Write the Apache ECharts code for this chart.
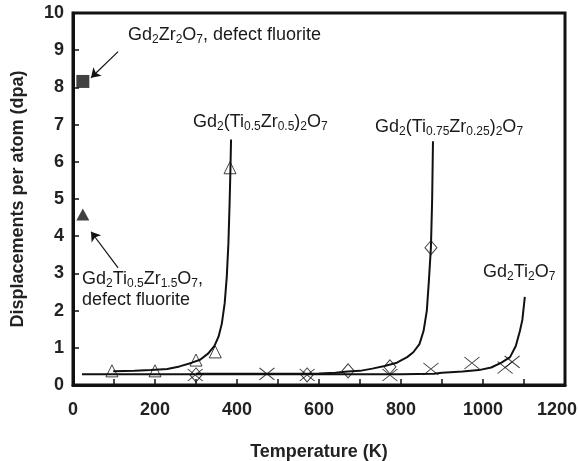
<!DOCTYPE html>
<html>
<head>
<meta charset="utf-8">
<script src="https://cdn.jsdelivr.net/npm/echarts@6/dist/echarts.min.js"></script>
<style>
  html, body { margin: 0; padding: 0; background: #fff; }
  #chartContainer { width: 578px; height: 461px; }
</style>
</head>
<body>
<div id="chartContainer"></div>
<script>
// measured points (temperature K, dpa)
var tempTi05 = [95, 200, 300, 347, 383];
var dpaTi05 = [0.38, 0.38, 0.67, 0.89, 5.84];

var tempTi075 = [300, 571, 671, 773, 873];
var dpaTi075 = [0.27, 0.27, 0.38, 0.49, 3.69];

var tempTi2 = [298, 473, 571, 773, 873, 973, 1054, 1071];
var dpaTi2 = [0.27, 0.30, 0.27, 0.27, 0.43, 0.59, 0.47, 0.62];

var tempZr2 = [24];
var dpaZr2 = [8.16];
var tempZr15 = [24];
var dpaZr15 = [4.58];

// hand drawn trend curves
var curveTi05T = [98, 150, 190, 230, 260, 290, 310, 330, 345, 355, 363, 370, 375, 379, 382, 384, 385.5];
var curveTi05D = [0.37, 0.38, 0.40, 0.43, 0.50, 0.60, 0.68, 0.85, 1.05, 1.30, 1.65, 2.2, 2.9, 3.8, 4.9, 5.8, 6.6];

var curveTi075T = [300, 450, 600, 640, 670, 700, 730, 760, 790, 815, 830, 845, 855, 863, 868, 873, 876, 878];
var curveTi075D = [0.30, 0.30, 0.31, 0.33, 0.36, 0.38, 0.44, 0.51, 0.60, 0.75, 0.88, 1.1, 1.45, 2.0, 2.8, 3.7, 5.0, 6.55];

var curveTi2T = [22, 200, 400, 600, 800, 880, 900, 950, 990, 1020, 1045, 1066, 1080, 1090, 1096, 1102];
var curveTi2D = [0.29, 0.29, 0.29, 0.29, 0.29, 0.30, 0.33, 0.36, 0.40, 0.47, 0.60, 0.75, 1.05, 1.45, 1.75, 2.37];

// arrows [from, to]
var arrowZr2 = [[110, 8.96], [44, 8.26]];
var arrowZr15 = [[110, 3.15], [44, 4.12]];

var xTicks = [0, 200, 400, 600, 800, 1000, 1200];
var yTicks = [0, 1, 2, 3, 4, 5, 6, 7, 8, 9, 10];

function pairs(xs, ys) {
    var out = [];
    for (var i = 0; i < xs.length; i++) {
        out.push([xs[i], ys[i]]);
    }
    return out;
}

var fontFam = '"Liberation Sans", Arial, sans-serif';
var richStyle = {
    m: { fontSize: 18, lineHeight: 22, fontFamily: fontFam, color: '#1a1a1a' },
    s: { fontSize: 12, lineHeight: 12, verticalAlign: 'bottom', fontFamily: fontFam, color: '#1a1a1a' }
};

function label(txt, x, y) {
    return {
        type: 'text',
        x: x,
        y: y,
        silent: true,
        z: 10,
        style: {
            text: txt,
            rich: richStyle,
            align: 'left',
            verticalAlign: 'middle',
            fill: '#1a1a1a'
        }
    };
}

var crossPath = 'path://M0,0L15,12M15,0L0,12';
var tickFont = { fontFamily: fontFam, fontWeight: 'bold', fontSize: 18, color: '#222' };

var dom = document.getElementById("chartContainer");
var myChart = echarts.init(dom);

var option = {
    animation: false,
    backgroundColor: '#fff',
    grid: {
        show: true,
        left: 73,
        right: 13,
        top: 13,
        bottom: 76,
        containLabel: false,
        outerBoundsMode: 'none',
        borderColor: '#111',
        borderWidth: 3,
        backgroundColor: 'transparent'
    },
    xAxis: {
        type: 'value',
        min: xTicks[0],
        max: xTicks[xTicks.length - 1],
        interval: 200,
        name: 'Temperature (K)',
        nameLocation: 'middle',
        nameGap: 58,
        nameTextStyle: tickFont,
        axisLine: { lineStyle: { color: '#111', width: 3 } },
        axisTick: { inside: true, length: 6, lineStyle: { color: '#111', width: 1.5 } },
        minorTick: { show: true, splitNumber: 2, length: 6, lineStyle: { color: '#111', width: 1.5 } },
        splitLine: { show: false },
        axisLabel: {
            margin: 16, fontFamily: fontFam, fontWeight: 'bold', fontSize: 18, color: '#222',
            formatter: function (v) {
                // last label is pushed left so it stays inside the picture
                if (v === xTicks[xTicks.length - 1]) {
                    return '{last|' + v + '}';
                }
                return String(v);
            },
            rich: {
                last: { fontFamily: fontFam, fontWeight: 'bold', fontSize: 18, color: '#222', padding: [0, 16, 0, 0] }
            }
        }
    },
    yAxis: {
        type: 'value',
        min: yTicks[0],
        max: yTicks[yTicks.length - 1],
        interval: 1,
        name: 'Displacements per atom (dpa)',
        nameLocation: 'middle',
        nameGap: 46,
        nameTextStyle: tickFont,
        axisLine: { lineStyle: { color: '#111', width: 3 } },
        axisTick: { inside: true, length: 6, lineStyle: { color: '#111', width: 1.5 } },
        splitLine: { show: false },
        axisLabel: {
            margin: 9, fontFamily: fontFam, fontWeight: 'bold', fontSize: 18, color: '#222',
            formatter: function (v) { return String(v); }
        }
    },
    series: [
        {
            type: 'line', data: pairs(curveTi2T, curveTi2D), showSymbol: false, symbol: 'none',
            lineStyle: { color: '#111', width: 2 }, z: 2
        },
        {
            type: 'line', data: pairs(curveTi075T, curveTi075D), showSymbol: false, symbol: 'none',
            lineStyle: { color: '#111', width: 2 }, z: 2
        },
        {
            type: 'line', data: pairs(curveTi05T, curveTi05D), showSymbol: false, symbol: 'none',
            lineStyle: { color: '#111', width: 2 }, z: 2
        },
        {
            type: 'scatter', data: pairs(tempTi05, dpaTi05), symbol: 'triangle', symbolSize: [12, 12],
            itemStyle: { color: 'transparent', borderColor: '#111', borderWidth: 1 }, z: 3
        },
        {
            type: 'scatter', data: pairs(tempTi075, dpaTi075), symbol: 'diamond', symbolSize: [12, 14],
            itemStyle: { color: 'transparent', borderColor: '#111', borderWidth: 1 }, z: 3
        },
        {
            type: 'scatter', data: pairs(tempTi2, dpaTi2), symbol: crossPath, symbolSize: [15, 12],
            itemStyle: { color: 'transparent', borderColor: '#111', borderWidth: 1 }, z: 3
        },
        {
            type: 'scatter', data: pairs(tempZr2, dpaZr2), symbol: 'rect', symbolSize: 13,
            itemStyle: { color: '#111' }, z: 3,
            markLine: {
                silent: true,
                symbol: ['none', 'arrow'],
                symbolSize: 9,
                label: { show: false },
                lineStyle: { color: '#111', width: 1.2, type: 'solid' },
                data: [
                    [{ coord: arrowZr2[0] }, { coord: arrowZr2[1] }],
                    [{ coord: arrowZr15[0] }, { coord: arrowZr15[1] }]
                ]
            }
        },
        {
            type: 'scatter', data: pairs(tempZr15, dpaZr15), symbol: 'triangle', symbolSize: [13, 12],
            itemStyle: { color: '#111' }, z: 3
        }
    ],
    graphic: [
        label('{m|Gd}{s|2}{m|Zr}{s|2}{m|O}{s|7}{m|, defect fluorite}', 128, 35),
        label('{m|Gd}{s|2}{m|Ti}{s|0.5}{m|Zr}{s|1.5}{m|O}{s|7}{m|,}', 82, 279),
        label('{m|defect fluorite}', 82, 300),
        label('{m|Gd}{s|2}{m|(Ti}{s|0.5}{m|Zr}{s|0.5}{m|)}{s|2}{m|O}{s|7}', 193, 122),
        label('{m|Gd}{s|2}{m|(Ti}{s|0.75}{m|Zr}{s|0.25}{m|)}{s|2}{m|O}{s|7}', 375, 127),
        label('{m|Gd}{s|2}{m|Ti}{s|2}{m|O}{s|7}', 483, 272)
    ]
};

myChart.setOption(option, true);
window.onresize = myChart.resize;
</script>
</body>
</html>
